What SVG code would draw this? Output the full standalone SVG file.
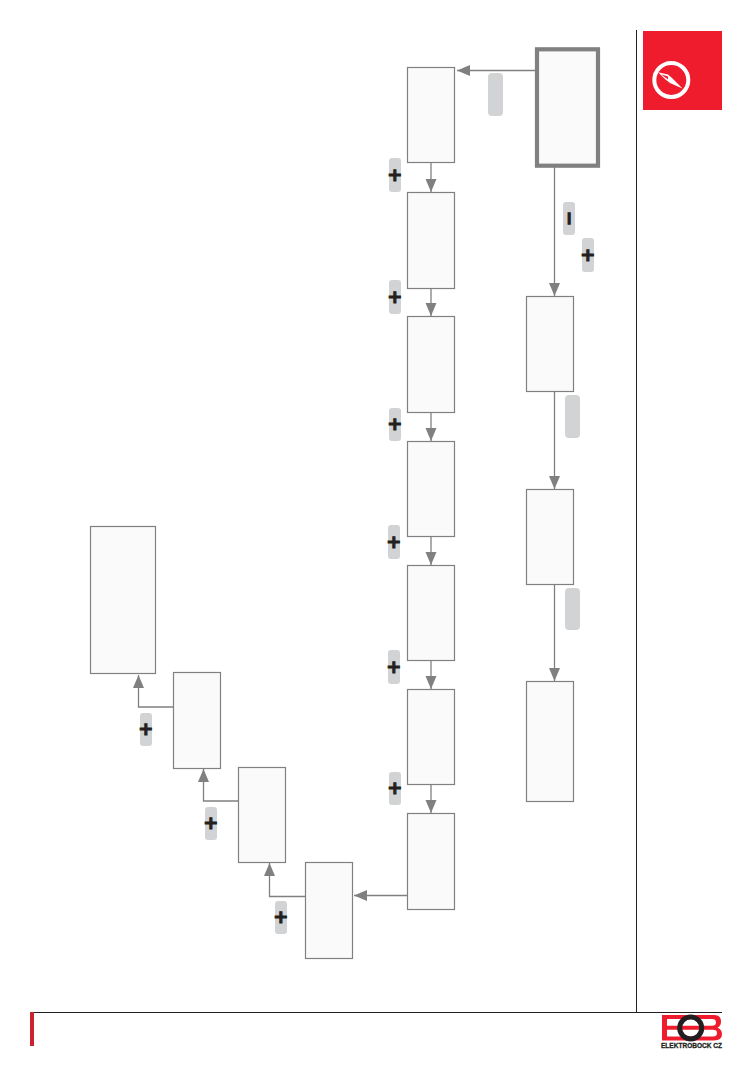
<svg xmlns="http://www.w3.org/2000/svg" width="750" height="1080" viewBox="0 0 750 1080">
<style>
.n{fill:#fafafa;stroke:#808080;stroke-width:1.2}
.c{fill:none;stroke:#808080;stroke-width:1.3;marker-end:url(#a)}
.p{fill:#d1d3d4}
.g{font-family:"DejaVu Sans",sans-serif;font-weight:700;font-size:18px;fill:#231f20;stroke:#231f20;stroke-width:1.1;text-anchor:middle}
</style>
<defs>
<marker id="a" markerUnits="userSpaceOnUse" markerWidth="14" markerHeight="14" refX="13" refY="6.5" orient="auto"><path d="M0 1L13 6.5L0 12z" fill="#808080"/></marker>
</defs>
<rect width="750" height="1080" fill="#fff"/>
<path d="M636.5 30V1012.5M33 1012.5H722" fill="none" stroke="#231f20" stroke-width="1"/>
<rect x="30" y="1012" width="4" height="34" fill="#c9252f"/>
<g id="connectors">
<path class="c" d="M536 70.5H457"/>
<path class="c" d="M431 162V192"/>
<path class="c" d="M431 288V316"/>
<path class="c" d="M431 412V441"/>
<path class="c" d="M431 536V565"/>
<path class="c" d="M431 660V689"/>
<path class="c" d="M431 784V813"/>
<path class="c" d="M408 895.5H354"/>
<path class="c" d="M305 896.5H269.500V863"/>
<path class="c" d="M238 801H203.500V769"/>
<path class="c" d="M173 707H138.500V675"/>
<path class="c" d="M554.500 167V296"/>
<path class="c" d="M554.500 391V489"/>
<path class="c" d="M554.500 584V681"/>
</g>
<g id="n0"><rect x="537" y="49.300" width="61" height="116.400" fill="#fafafa" stroke="#808080" stroke-width="4.200"/></g>
<g id="n1"><rect class="n" x="407.500" y="67.500" width="47" height="95"/></g>
<g id="n2"><rect class="n" x="407.500" y="192.500" width="47" height="96"/></g>
<g id="n3"><rect class="n" x="407.500" y="316.500" width="47" height="96"/></g>
<g id="n4"><rect class="n" x="407.500" y="441.500" width="47" height="95"/></g>
<g id="n5"><rect class="n" x="407.500" y="565.500" width="47" height="95"/></g>
<g id="n6"><rect class="n" x="407.500" y="689.500" width="47" height="95"/></g>
<g id="n7"><rect class="n" x="407.500" y="813.500" width="47" height="96"/></g>
<g id="n8"><rect class="n" x="305.500" y="862.500" width="47" height="96"/></g>
<g id="n9"><rect class="n" x="238.500" y="767.500" width="47" height="95"/></g>
<g id="n10"><rect class="n" x="173.500" y="672.500" width="47" height="96"/></g>
<g id="n11"><rect class="n" x="90.500" y="526.500" width="65" height="147"/></g>
<g id="r1"><rect class="n" x="526.500" y="296.500" width="47" height="95"/></g>
<g id="r2"><rect class="n" x="526.500" y="489.500" width="47" height="95"/></g>
<g id="r3"><rect class="n" x="526.500" y="681.500" width="47" height="120"/></g>
<g id="buttons">
<rect class="p" x="488" y="73" width="15" height="43" rx="4"/>
<rect class="p" x="565" y="395" width="15" height="43" rx="4"/>
<rect class="p" x="565" y="588" width="15" height="42" rx="4"/>
<rect class="p" x="389" y="158" width="12" height="34" rx="3"/><text class="g" x="394.800" y="180.500">+</text>
<rect class="p" x="389" y="280" width="12" height="34" rx="3"/><text class="g" x="394.800" y="302.500">+</text>
<rect class="p" x="389" y="408" width="12" height="33" rx="3"/><text class="g" x="394.800" y="430">+</text>
<rect class="p" x="388" y="525" width="12" height="34" rx="3"/><text class="g" x="393.800" y="547.500">+</text>
<rect class="p" x="388" y="650" width="12" height="34" rx="3"/><text class="g" x="393.800" y="672.500">+</text>
<rect class="p" x="389" y="772" width="12" height="33" rx="3"/><text class="g" x="394.800" y="794">+</text>
<rect class="p" x="140" y="713" width="12" height="33" rx="3"/><text class="g" x="145.800" y="735">+</text>
<rect class="p" x="205" y="807" width="12" height="33" rx="3"/><text class="g" x="210.800" y="829">+</text>
<rect class="p" x="275" y="901" width="12" height="33" rx="3"/><text class="g" x="280.800" y="923">+</text>
<rect class="p" x="582" y="238" width="12" height="34" rx="3"/><text class="g" x="587.800" y="260.500">+</text>
<rect class="p" x="563" y="202" width="12" height="33" rx="3"/><text class="g" transform="rotate(-90 568.700 218.500)" x="568.700" y="225">−</text>
</g>
<g id="compass">
<rect x="643" y="31" width="79" height="79" fill="#ef1c2e"/>
<circle cx="671.300" cy="80" r="17" fill="none" stroke="#fff" stroke-width="4"/>
<path d="M658 72.300L668 74.500L672 78L682.500 88.500L670 83L665.500 79.500z" fill="#fff"/>
<path d="M661 74.300L668 76.500L668 79.500z" fill="#ef1c2e"/>
</g>
<g id="logo">
<path d="M662 1015H692V1019H667V1025.700H692V1029.700H667V1036.500H692V1040.500H662z" fill="#ef1c2e"/>
<path d="M692 1015H714Q721 1015 721 1021.500Q721 1026 717.500 1027.700Q722 1029.500 722 1034Q722 1040.500 714 1040.500H692V1036.500H713Q717 1036.500 717 1033Q717 1029.700 713 1029.700H692V1025.700H712Q716 1025.700 716 1022.400Q716 1019 712 1019H692z" fill="#ef1c2e"/>
<circle cx="690.700" cy="1028" r="11" fill="none" stroke="#231f20" stroke-width="5"/>
<text x="661" y="1048" font-family="Liberation Sans, sans-serif" font-weight="700" font-size="7" fill="#231f20" stroke="#231f20" stroke-width="0.3" textLength="61" lengthAdjust="spacingAndGlyphs">ELEKTROBOCK CZ</text>
</g>
</svg>
